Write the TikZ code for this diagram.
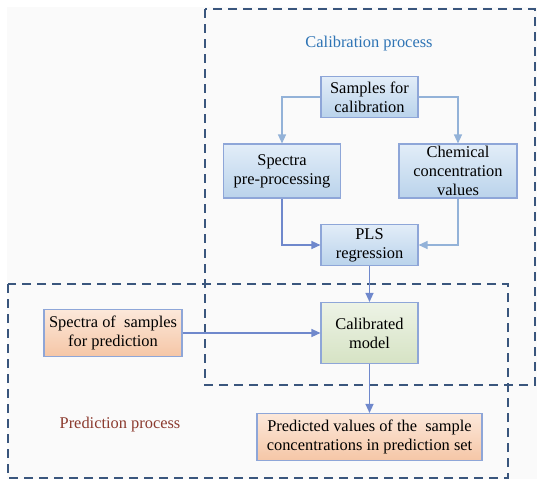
\documentclass[tikz,border=0pt]{standalone}
\usepackage{fontspec}
\setmainfont{Liberation Serif}
\usetikzlibrary{arrows.meta}
\definecolor{dashc}{HTML}{3A567D}
\definecolor{boxborder}{HTML}{8EA6D8}
\definecolor{lightarrow}{HTML}{93B2D8}
\definecolor{darkarrow}{HTML}{6F88CC}
\definecolor{calibtext}{HTML}{2E74B5}
\definecolor{predtext}{HTML}{8B3A2E}
\definecolor{bluetop}{HTML}{E2EDF8}
\definecolor{bluebot}{HTML}{BAD3EB}
\definecolor{greentop}{HTML}{EDF3E6}
\definecolor{greenbot}{HTML}{D6E3C4}
\definecolor{orangetop}{HTML}{FCE8DA}
\definecolor{orangebot}{HTML}{F5C6A6}
\definecolor{bgc}{HTML}{FAFAFA}
\tikzset{
  x=1pt, y=-1pt,
  every node/.style={font=\fontsize{16.4}{19}\selectfont, align=center, inner sep=0pt},
  procbox/.style={draw=boxborder, line width=1.1pt, minimum width=#1},
  bluebox/.style={procbox=#1, top color=bluetop, bottom color=bluebot},
  greenbox/.style={procbox=#1, top color=greentop, bottom color=greenbot},
  orangebox/.style={procbox=#1, top color=orangetop, bottom color=orangebot},
  regionbox/.style={draw=dashc, line width=1.4pt, dash pattern=on 9pt off 6pt},
  lightlink/.style={draw=lightarrow, line width=1.2pt, -{Triangle[length=9pt,width=8pt]}},
  darklink/.style={draw=darkarrow, line width=1.2pt, -{Triangle[length=9pt,width=8pt]}},
}
\begin{document}
\begin{tikzpicture}
\useasboundingbox (0,0) rectangle (537,479);
\fill[white] (0,0) rectangle (537,479);
\fill[bgc] (7,7) rectangle (537,479);
% regions
\draw[regionbox] (8,284) rectangle (508,478);
\draw[regionbox] (205,9) rectangle (535,385);
\node[text=calibtext] (caltitle) at (369,44) {Calibration process};
\node[text=predtext] (predtitle) at (120,425) {Prediction process};
% boxes
\node[bluebox=97pt, minimum height=41pt] (samp) at (369.5,97) {Samples for\\calibration};
\node[bluebox=117pt, minimum height=54pt] (spec) at (282,171) {Spectra\\pre-processing};
\node[bluebox=118pt, minimum height=54pt] (chem) at (458,171) {Chemical\\concentration\\values};
\node[bluebox=97pt, minimum height=41pt] (pls) at (369.5,245) {PLS\\regression};
\node[greenbox=97pt, minimum height=61pt] (cal) at (369.5,333) {Calibrated\\model};
\node[orangebox=138pt, minimum height=47pt] (specp) at (113,333) {Spectra of~ samples\\for prediction};
\node[orangebox=225pt, minimum height=47pt] (pred) at (369.5,437) {Predicted values of the~ sample\\concentrations in prediction set};
% connectors
\draw[lightlink] (samp.west) -| (spec.north);
\draw[lightlink] (samp.east) -| (chem.north);
\draw[darklink] (spec.south) |- (pls.west);
\draw[lightlink] (chem.south) |- (pls.east);
\draw[darklink] (pls.south) -- (cal.north);
\draw[darklink] (specp.east) -- (cal.west);
\draw[darklink] (cal.south) -- (pred.north);
\end{tikzpicture}
\end{document}
